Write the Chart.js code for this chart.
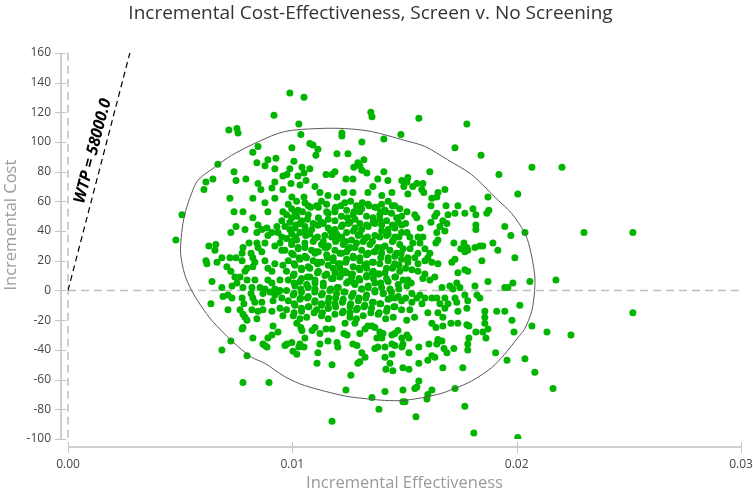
<!DOCTYPE html>
<html><head><meta charset="utf-8">
<script src="https://cdn.jsdelivr.net/npm/chart.js@4.4.1/dist/chart.umd.min.js"></script>
<style>html,body{margin:0;padding:0;background:#fff;}canvas{display:block;}</style>
</head><body>
<canvas id="c" width="753" height="493"></canvas>
<script>
const chartTitle = 'Incremental Cost-Effectiveness, Screen v. No Screening';
const xTitle = 'Incremental Effectiveness';
const yTitle = 'Incremental Cost';
const xTicks = [0, 0.01, 0.02, 0.03];
const xTickLabels = ['0.00', '0.01', '0.02', '0.03'];
const yTicks = [-100, -80, -60, -40, -20, 0, 20, 40, 60, 80, 100, 120, 140, 160];
const WTP = 58000;
const wtpLabel = 'WTP = 58000.0';
const wtpCost = [0, 160];

const ellipseEff = [0.00542,0.00578,0.00654,0.0073,0.00846,0.00966,0.01113,0.01233,0.01353,0.01501,0.0159,0.01692,0.01799,0.01915,0.01977,0.02035,0.02058,0.0208,0.0208,0.02067,0.02035,0.02004,0.01946,0.01888,0.01799,0.01723,0.01648,0.01501,0.01412,0.01336,0.01233,0.01055,0.00966,0.00877,0.00819,0.0073,0.0064,0.00596,0.00551,0.0052,0.00502,0.00507,0.0052,0.00542];
const ellipseCost = [62,74,83,91,100,107,109,109,107,101,97,88,78,61,52,39,29,11,0,-14,-26,-32,-43,-52,-61,-66,-70,-74,-74,-73,-71,-64,-58,-49,-45,-34,-20,-11,0,11,25,39,51,62];

const samples = [
// upper left
[0.00918,118],[0.00717,108],[0.00753,109],[0.00758,106],[0.00847,97],[0.00824,93],[0.00842,86],[0.00891,88],[0.00927,89],[0.00878,84],[0.00922,82],[0.00668,85],[0.0074,80],[0.00646,75],[0.00615,73],[0.00606,68],[0.00749,74],[0.00793,75],[0.00847,72],[0.0086,68],[0.00909,69],[0.00922,73],[0.00958,77],[0.00958,68],[0.00722,62],[0.00824,62],[0.00922,62],
// upper middle
[0.00989,133],[0.01052,130],[0.0135,120],[0.01355,117],[0.01029,112],[0.01221,106],[0.01221,104],[0.01038,105],[0.01484,105],[0.0131,100],[0.01408,102],[0.00998,96],[0.01078,99],[0.01092,98],[0.01114,95],[0.01105,91],[0.01199,92],[0.01248,92],[0.01319,88],[0.01292,86],[0.01301,84],[0.01274,83],[0.0131,81],[0.01332,79],[0.01408,80],[0.01381,75],[0.01426,74],[0.01488,74],[0.01497,70],[0.01007,87],[0.00989,82],[0.01043,83],[0.01078,82],[0.01052,79],[0.01025,77],[0.01061,74],[0.00994,72],[0.01034,71],[0.00976,78],[0.0115,78],[0.01177,78],[0.0119,80],[0.01239,75],[0.0127,75],[0.01101,70],[0.01359,70],[0.01337,66],[0.0127,66],[0.0123,66],[0.01123,66],[0.01159,64],[0.01199,63],[0.01052,63],[0.00998,63],[0.01399,64],[0.01444,66],
// upper right
[0.01564,116],[0.01778,112],[0.01725,96],[0.01841,91],[0.01613,80],[0.01921,78],[0.01515,76],[0.01511,73],[0.01555,72],[0.01537,70],[0.01582,72],[0.01577,68],[0.01586,66],[0.01649,66],[0.0168,68],[0.01644,63],[0.01622,62],[0.01515,65],[0.01872,63],[0.02005,65],
// far right
[0.02068,83],[0.02202,83],[0.02037,39],[0.023,39],[0.02518,39],[0.02059,6],[0.02175,7],[0.02518,-15],[0.02068,-24],[0.02135,-28],[0.02242,-30],[0.02037,-46],[0.02081,-55],[0.02162,-66],
// lower right
[0.01622,-22],[0.0164,-25],[0.01671,-24],[0.01707,-22],[0.01738,-22],[0.01778,-23],[0.01787,-24],[0.01858,-22],[0.01872,-26],[0.01849,-28],[0.01818,-28],[0.01979,-20],[0.01988,-28],[0.01863,-32],[0.01511,-30],[0.0152,-32],[0.01564,-38],[0.01609,-36],[0.01644,-36],[0.01649,-33],[0.01667,-34],[0.01676,-39],[0.01689,-42],[0.0172,-39],[0.01782,-36],[0.01787,-32],[0.01782,-40],[0.0152,-42],[0.01622,-44],[0.01635,-45],[0.01906,-42],[0.01564,-49],[0.01604,-47],[0.0152,-53],[0.01671,-52],[0.0176,-52],[0.01957,-47],[0.01564,-61],[0.01546,-66],[0.01555,-65],[0.01622,-67],[0.01604,-70],[0.016,-73],[0.01725,-66],[0.01769,-78],[0.01551,-85],[0.01809,-96],[0.02005,-99],[0.01502,-75],
// lower middle
[0.0102,-22],[0.01038,-25],[0.01043,-27],[0.01088,-27],[0.01101,-25],[0.01123,-29],[0.0115,-26],[0.01177,-26],[0.01235,-22],[0.01244,-30],[0.0123,-29],[0.01279,-22],[0.01301,-29],[0.01324,-26],[0.01337,-24],[0.01355,-24],[0.01368,-25],[0.0139,-28],[0.01404,-29],[0.01399,-32],[0.01377,-32],[0.01444,-30],[0.01457,-29],[0.01471,-27],[0.01488,-32],[0.01493,-36],[0.01444,-36],[0.01413,-38],[0.01381,-38],[0.01368,-39],[0.01288,-37],[0.0127,-36],[0.0131,-42],[0.01324,-45],[0.01292,-49],[0.01301,-48],[0.01413,-45],[0.01435,-49],[0.01444,-43],[0.01457,-37],[0.01488,-38],[0.01417,-53],[0.01448,-54],[0.01493,-52],[0.01114,-42],[0.0111,-49],[0.01177,-50],[0.01261,-57],[0.01239,-67],[0.01413,-68],[0.01355,-72],[0.01386,-80],[0.01177,-88],[0.01493,-67],[0.01493,-75],[0.01123,-36],[0.01159,-34],[0.01199,-35],[0.01203,-38],[0.01056,-32],[0.01034,-36],[0.01029,-38],[0.01003,-41],[0.0102,-43],[0.00998,-35],[0.00976,-36],[0.01052,-38],
// lower left
[0.0078,-25],[0.00914,-24],[0.00936,-28],[0.00909,-30],[0.00891,-32],[0.00869,-36],[0.00887,-38],[0.00824,-32],[0.00726,-34],[0.00686,-40],[0.00798,-44],[0.0078,-62],[0.00896,-62],[0.00967,-37],[0.00798,-20],[0.00776,-26],[0.00878,-37],
// middle left
[0.00508,51],[0.00481,34],[0.00878,59],[0.00891,53],[0.0074,53],[0.0078,53],[0.00824,49],[0.00749,43],[0.00789,41],[0.00726,39],[0.00847,44],[0.00842,39],[0.00864,41],[0.00887,42],[0.00909,39],[0.00891,37],[0.00931,43],[0.00936,39],[0.00953,36],[0.00958,53],[0.00953,47],[0.00628,30],[0.00659,31],[0.00655,27],[0.00807,32],[0.0078,29],[0.00842,32],[0.00847,29],[0.00878,32],[0.00864,26],[0.00922,30],[0.00945,32],[0.00953,27],[0.00776,25],[0.00816,25],[0.00824,22],[0.00776,20],[0.00749,22],[0.00722,22],[0.00686,22],[0.00664,19],[0.00615,20],[0.00619,18],[0.00708,16],[0.00726,13],[0.00798,15],[0.00789,13],[0.00824,16],[0.00833,19],[0.00878,20],[0.00891,15],[0.00909,13],[0.00922,18],[0.00958,17],[0.00744,9],[0.00767,9],[0.00798,7],[0.00833,7],[0.00753,5],[0.00891,7],[0.00909,5],[0.00945,7],[0.00642,6],[0.00731,3],[0.00686,2],[0.0078,2],[0.0082,2],[0.00856,2],[0.00878,1],[0.00922,1],[0.00945,0],[0.00691,-4],[0.00731,-5],[0.00713,-3],[0.00816,-2],[0.00824,-5],[0.00869,-2],[0.009,-1],[0.00922,-3],[0.00936,-1],[0.00953,-5],[0.00914,-7],[0.00776,-5],[0.00784,-9],[0.00637,-9],[0.00833,-8],[0.00864,-8],[0.00713,-13],[0.00767,-13],[0.0078,-16],[0.00789,-18],[0.0082,-13],[0.00847,-14],[0.00869,-13],[0.00909,-14],[0.00945,-12],[0.00958,-17],[0.00842,-19],
// middle right
[0.01618,57],[0.01685,57],[0.01738,57],[0.01805,55],[0.01769,52],[0.01818,51],[0.01867,52],[0.01876,54],[0.01725,52],[0.01694,51],[0.01644,52],[0.01635,50],[0.01546,51],[0.01555,49],[0.01511,53],[0.01618,46],[0.01671,47],[0.01689,45],[0.01658,43],[0.0168,40],[0.01644,39],[0.01818,44],[0.01818,41],[0.01947,43],[0.01974,37],[0.01511,39],[0.01524,36],[0.0156,36],[0.01582,36],[0.01569,32],[0.01537,32],[0.01649,34],[0.0164,32],[0.0172,32],[0.01765,32],[0.01778,29],[0.01751,28],[0.01769,26],[0.01782,27],[0.01814,29],[0.01836,30],[0.01849,30],[0.01894,32],[0.01916,27],[0.01591,28],[0.01613,25],[0.01604,22],[0.01591,20],[0.0156,25],[0.01546,22],[0.01515,22],[0.01515,19],[0.0156,18],[0.01622,19],[0.01649,18],[0.01711,19],[0.01725,21],[0.01845,20],[0.01992,22],[0.01533,14],[0.0156,13],[0.01591,11],[0.01582,8],[0.01613,7],[0.01635,9],[0.01738,12],[0.01769,14],[0.01782,13],[0.01872,6],[0.01983,5],[0.01947,2],[0.01961,2],[0.01515,7],[0.01511,3],[0.01667,2],[0.01702,3],[0.01733,5],[0.01747,2],[0.01716,1],[0.01814,3],[0.01533,-2],[0.01555,-5],[0.01569,-3],[0.01591,-5],[0.01622,-5],[0.01644,-5],[0.0168,-5],[0.01725,-5],[0.01769,-3],[0.01782,-7],[0.01823,-3],[0.01836,-5],[0.01533,-8],[0.01578,-9],[0.01658,-9],[0.01694,-9],[0.01733,-8],[0.01524,-13],[0.01604,-15],[0.01649,-15],[0.0168,-12],[0.01738,-14],[0.01778,-12],[0.01858,-14],[0.01911,-14],[0.01947,-14],[0.02014,-10],[0.01671,-18],[0.01858,-18],
[0.01505,45],[0.01525,28],[0.01505,15],[0.01505,-5],[0.01545,-18],[0.0151,-20],[0.0157,42],[0.0153,5],
// dense centre
[0.00982,58],[0.01056,59],[0.01108,57],[0.01153,58],[0.01234,59],[0.01286,57],[0.01338,58],[0.01398,58],[0.01457,57],
[0.00997,55],[0.01026,54],[0.01116,56],[0.0119,55],[0.01242,54],[0.01309,55],[0.01375,56],[0.01413,54],[0.01479,55],
[0.00974,51],[0.01019,50],[0.01071,51],[0.0116,52],[0.01219,50],[0.01271,51],[0.01331,50],[0.0139,51],[0.01442,52],[0.01487,50],
[0.00989,46],[0.01041,47],[0.01093,45],[0.0113,46],[0.0119,47],[0.01257,46],[0.01301,45],[0.01361,46],[0.0142,47],[0.01472,46],
[0.00967,43],[0.01012,42],[0.01056,43],[0.01116,44],[0.0116,42],[0.01219,43],[0.01279,42],[0.01338,43],[0.01398,44],[0.01457,42],
[0.00997,38],[0.01034,39],[0.01078,38],[0.01145,37],[0.01197,38],[0.01242,39],[0.01301,38],[0.01368,37],[0.01427,38],[0.01487,39],
[0.00974,35],[0.01019,34],[0.01101,35],[0.01175,36],[0.01212,35],[0.01264,34],[0.01323,35],[0.0139,36],[0.0145,34],
[0.00997,31],[0.01056,32],[0.0113,31],[0.0116,30],[0.01227,31],[0.01286,32],[0.01346,31],[0.01413,30],[0.01479,31],
[0.00967,27],[0.01026,28],[0.01086,27],[0.01116,26],[0.0119,27],[0.01249,28],[0.01309,27],[0.01368,26],[0.01435,27],[0.01494,28],
[0.01004,24],[0.01056,23],[0.01153,24],[0.01212,25],[0.01271,23],[0.01331,24],[0.01398,25],[0.01457,23],
[0.00982,20],[0.01034,21],[0.01093,20],[0.0113,19],[0.01182,20],[0.01242,21],[0.01301,20],[0.01361,19],[0.01427,20],[0.01487,21],
[0.01012,17],[0.01071,16],[0.0116,17],[0.01205,18],[0.01271,16],[0.01323,17],[0.0139,18],[0.0145,16],
[0.00974,13],[0.01041,14],[0.01116,13],[0.0119,12],[0.01234,13],[0.01301,14],[0.01361,13],[0.01413,12],[0.01479,13],
[0.01004,10],[0.01078,9],[0.01145,10],[0.01219,11],[0.01264,9],[0.01331,10],[0.01383,11],[0.01457,9],
[0.00982,7],[0.01034,6],[0.01101,7],[0.01175,8],[0.01249,6],[0.01301,7],[0.01361,8],[0.01427,6],[0.01494,7],
[0.01012,3],[0.01064,4],[0.01138,3],[0.01205,2],[0.01279,4],[0.01338,3],[0.01398,2],[0.01472,4],
[0.00974,0],[0.01041,-1],[0.01101,1],[0.01167,0],[0.01234,-1],[0.01309,1],[0.01368,0],[0.01442,-1],
[0.01004,-3],[0.01071,-4],[0.0113,-3],[0.01197,-2],[0.01264,-4],[0.01331,-3],[0.01405,-2],[0.01472,-4],
[0.00982,-7],[0.01034,-6],[0.01101,-7],[0.0116,-8],[0.01227,-6],[0.01294,-7],[0.01361,-8],[0.01427,-6],[0.01487,-7],
[0.01012,-10],[0.01071,-11],[0.0113,-10],[0.0119,-9],[0.01257,-11],[0.01323,-10],[0.0139,-9],[0.01457,-11],
[0.00974,-13],[0.01041,-14],[0.01108,-13],[0.0116,-12],[0.01227,-14],[0.01286,-13],[0.01353,-12],[0.0142,-14],[0.01487,-13],
[0.01004,-17],[0.01064,-18],[0.0113,-17],[0.0119,-16],[0.01257,-18],[0.01316,-17],[0.01383,-16],[0.0145,-18],
// dense centre, second layer
[0.01019,60],[0.01082,56],[0.0113,60],[0.01193,56],[0.0126,60],[0.01312,59],[0.01368,56],[0.01427,60],
[0.01011,53],[0.01071,57],[0.01153,53],[0.01216,57],[0.01275,53],[0.01342,57],[0.01394,53],[0.01446,57],
[0.00997,49],[0.01045,53],[0.01116,49],[0.0119,53],[0.01245,49],[0.01301,53],[0.0136,49],[0.01416,53],[0.01465,49],
[0.01015,44],[0.01067,48],[0.01112,44],[0.0116,48],[0.01223,44],[0.01279,48],[0.01331,44],[0.0139,48],[0.01446,44],
[0.00989,41],[0.01034,45],[0.01086,41],[0.01138,45],[0.0119,41],[0.01249,45],[0.01309,41],[0.01368,45],[0.01427,41],[0.01487,44],
[0.01015,36],[0.01056,40],[0.01112,36],[0.01171,40],[0.0122,36],[0.01272,40],[0.01335,36],[0.01398,40],[0.01457,36],
[0.00997,33],[0.0106,37],[0.01138,33],[0.01193,37],[0.01238,33],[0.01294,37],[0.01357,33],[0.0142,37],[0.01475,36],
[0.01026,29],[0.01093,33],[0.01145,29],[0.01193,33],[0.01257,29],[0.01316,33],[0.0138,29],[0.01446,33],
[0.00997,25],[0.01056,29],[0.01101,25],[0.01153,29],[0.0122,25],[0.01279,29],[0.01338,25],[0.01401,29],[0.01465,25],
[0.0103,22],[0.01105,26],[0.01182,22],[0.01242,26],[0.01301,22],[0.01365,26],[0.01427,22],[0.01485,25],
[0.01008,18],[0.01063,22],[0.01112,18],[0.01156,22],[0.01212,18],[0.01272,22],[0.01331,18],[0.01394,22],[0.01457,18],
[0.01041,15],[0.01116,19],[0.01182,15],[0.01238,19],[0.01297,15],[0.01357,19],[0.0142,15],[0.01475,17],
[0.01008,11],[0.01078,15],[0.01153,11],[0.01212,15],[0.01268,11],[0.01331,15],[0.01387,11],[0.01446,15],
[0.01041,8],[0.01112,12],[0.01182,8],[0.01242,12],[0.01297,8],[0.01357,12],[0.0142,8],
[0.01008,5],[0.01067,9],[0.01138,5],[0.01212,9],[0.01275,5],[0.01331,9],[0.01394,5],[0.0146,9],
[0.01038,1],[0.01101,5],[0.01171,1],[0.01242,5],[0.01309,1],[0.01368,5],[0.01435,1],
[0.01008,-2],[0.01071,2],[0.01134,-2],[0.012,2],[0.01271,-2],[0.01338,2],[0.01405,-2],[0.01475,1],
[0.01037,-5],[0.011,-1],[0.01163,-5],[0.0123,-1],[0.01297,-5],[0.01368,-1],[0.01438,-5],
[0.01008,-9],[0.01067,-5],[0.0113,-9],[0.01193,-5],[0.0126,-9],[0.01327,-5],[0.01394,-9],[0.01457,-5],
[0.01041,-12],[0.011,-8],[0.0116,-12],[0.01223,-8],[0.0129,-12],[0.01357,-8],[0.01423,-12],
[0.01008,-15],[0.01074,-11],[0.01134,-15],[0.01193,-11],[0.01257,-15],[0.0132,-11],[0.01387,-15],[0.01453,-11],
[0.01034,-19],[0.01097,-15],[0.0116,-19],[0.01223,-15],[0.01286,-19],[0.0135,-15],[0.01416,-19]
];

const FONT = "'Open Sans', 'Noto Sans', sans-serif";
const GREEN = '#00b400';

const axesPlugin = {
  id: 'customAxes',
  beforeDatasetsDraw(chart) {
    const {ctx, chartArea: a, scales: {x, y}} = chart;
    ctx.save();
    ctx.strokeStyle = '#bdbdbd';
    ctx.lineWidth = 1.5;
    ctx.setLineDash([8, 5]);
    const y0 = y.getPixelForValue(0), x0 = x.getPixelForValue(0);
    ctx.beginPath(); ctx.moveTo(a.left, y0); ctx.lineTo(a.right, y0); ctx.stroke();
    ctx.beginPath(); ctx.moveTo(x0, a.top); ctx.lineTo(x0, a.bottom); ctx.stroke();
    ctx.setLineDash([]);
    ctx.strokeStyle = '#cfcfcf';
    ctx.lineWidth = 2;
    const ax = a.left - 7, ay = a.bottom + 8;
    ctx.beginPath(); ctx.moveTo(ax, y.getPixelForValue(yTicks[yTicks.length-1])); ctx.lineTo(ax, y.getPixelForValue(yTicks[0])); ctx.stroke();
    ctx.beginPath(); ctx.moveTo(x.getPixelForValue(xTicks[0]), ay); ctx.lineTo(x.getPixelForValue(xTicks[xTicks.length-1]), ay); ctx.stroke();
    ctx.lineWidth = 1;
    ctx.strokeStyle = '#c4c4c4';
    yTicks.forEach(v => { const p = Math.round(y.getPixelForValue(v)) + 0.5; ctx.beginPath(); ctx.moveTo(ax - 6, p); ctx.lineTo(ax + 5, p); ctx.stroke(); });
    xTicks.forEach(v => { const p = Math.round(x.getPixelForValue(v)) + 0.5; ctx.beginPath(); ctx.moveTo(p, ay - 5); ctx.lineTo(p, ay + 6); ctx.stroke(); });
    // y axis title
    ctx.save();
    ctx.translate(11, y.getPixelForValue(44));
    ctx.rotate(-Math.PI / 2);
    ctx.font = "16.5px " + FONT;
    ctx.fillStyle = '#9a9a9a';
    ctx.textAlign = 'center';
    ctx.textBaseline = 'middle';
    ctx.fillText(yTitle, 0, 0);
    ctx.restore();
    ctx.restore();
  },
  afterDatasetsDraw(chart) {
    const {ctx, scales: {x, y}} = chart;
    const c = 92;
    const px = x.getPixelForValue(c / WTP), py = y.getPixelForValue(c);
    const dx = x.getPixelForValue(wtpCost[1] / WTP) - x.getPixelForValue(0);
    const dy = y.getPixelForValue(wtpCost[1]) - y.getPixelForValue(0);
    const ang = Math.atan2(dy, dx);
    ctx.save();
    ctx.translate(px, py);
    ctx.rotate(ang);
    ctx.font = "italic bold 16px " + FONT;
    ctx.fillStyle = '#000';
    ctx.textAlign = 'center';
    ctx.textBaseline = 'middle';
    ctx.fillText(wtpLabel, 0, -11);
    ctx.restore();
  }
};

new Chart(document.getElementById('c'), {
  type: 'scatter',
  data: {
    datasets: [
      {
        label: 'ellipse',
        data: ellipseEff.map((v, i) => ({x: v, y: ellipseCost[i]})),
        showLine: true, borderColor: '#5a5a5a', borderWidth: 1, pointRadius: 0, tension: 0.3, fill: false, order: 1
      },
      {
        label: 'WTP',
        data: wtpCost.map(c => ({x: c / WTP, y: c})),
        showLine: true, borderColor: '#000', borderWidth: 1.2, borderDash: [6, 4], pointRadius: 0, fill: false, order: 0
      },
      {
        label: 'samples',
        data: samples.map(p => ({x: p[0], y: p[1]})),
        backgroundColor: GREEN, borderWidth: 0, pointRadius: 3.5, pointHoverRadius: 3.5, order: 2
      }
    ]
  },
  options: {
    responsive: false,
    animation: false,
    devicePixelRatio: 1,
    events: [],
    layout: {padding: {left: 0, right: 12, top: 0, bottom: 0}},
    plugins: {
      legend: {display: false},
      tooltip: {enabled: false},
      title: {
        display: true, text: chartTitle, color: '#333',
        font: {family: FONT, size: 19, weight: 'normal'},
        padding: {top: 2, bottom: 28}
      }
    },
    scales: {
      x: {
        type: 'linear', min: 0, max: 0.03,
        afterBuildTicks: s => { s.ticks = xTicks.map(v => ({value: v})); },
        afterFit: s => { s.height = 54; s.paddingLeft = 0; s.paddingRight = 0; },
        ticks: {color: '#444', font: {family: FONT, size: 12}, padding: 18, maxRotation: 0,
          callback: (v) => xTickLabels[xTicks.indexOf(v)] ?? ''},
        grid: {display: false, drawTicks: false},
        border: {display: false},
        title: {display: true, text: xTitle, color: '#9a9a9a', font: {family: FONT, size: 16.5}, padding: {top: 0, bottom: 0}}
      },
      y: {
        type: 'linear', min: -100, max: 160,
        afterBuildTicks: s => { s.ticks = yTicks.map(v => ({value: v})); },
        afterFit: s => { s.width = 68; s.paddingTop = 0; s.paddingBottom = 0; },
        ticks: {color: '#444', font: {family: FONT, size: 12}, padding: 17},
        grid: {display: false, drawTicks: false},
        border: {display: false},
        title: {display: false}
      }
    }
  },
  plugins: [axesPlugin]
});
</script>
</body></html>
